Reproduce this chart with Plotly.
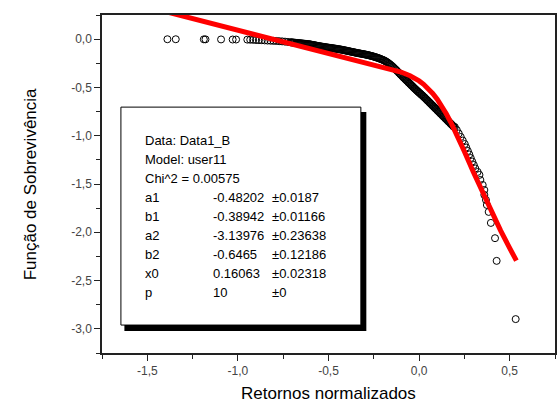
import plotly.graph_objects as go

# ---------------- data ----------------
# sparse points on the far left
left_x = [-1.389, -1.343, -1.188, -1.179, -1.093, -1.029, -1.010]
left_y = [-0.001, -0.001, -0.002, -0.002, -0.003, -0.004, -0.004]

# dense flat part
flat_x = [-0.948, -0.932, -0.916, -0.900, -0.884, -0.868, -0.852, -0.836, -0.820, -0.804,
          -0.788, -0.772, -0.756, -0.740, -0.724]
flat_y = [-0.005, -0.006, -0.007, -0.009, -0.010, -0.011, -0.013, -0.015, -0.016, -0.018,
          -0.019, -0.021, -0.023, -0.026, -0.029]

mid_x = [-0.710, -0.705, -0.700, -0.695, -0.690, -0.685, -0.680, -0.675, -0.670, -0.665,
         -0.660, -0.655, -0.650, -0.645, -0.640, -0.635, -0.630, -0.625, -0.620, -0.615,
         -0.610, -0.605, -0.600, -0.595, -0.590, -0.585, -0.580, -0.575, -0.570, -0.565,
         -0.560, -0.555, -0.550, -0.545, -0.540, -0.535, -0.530, -0.525, -0.520, -0.515,
         -0.510, -0.505, -0.500, -0.495, -0.490, -0.485, -0.480, -0.475, -0.470, -0.465,
         -0.460, -0.455, -0.450, -0.445, -0.440, -0.435, -0.430, -0.425, -0.420, -0.415,
         -0.410, -0.405, -0.400, -0.395, -0.390, -0.385, -0.380, -0.375, -0.370, -0.365,
         -0.360, -0.355, -0.350, -0.345, -0.340, -0.335, -0.330, -0.325, -0.320, -0.315,
         -0.310, -0.305, -0.300, -0.295, -0.290, -0.285, -0.280, -0.275, -0.270, -0.265,
         -0.260, -0.255, -0.250, -0.245, -0.240, -0.235, -0.230, -0.225, -0.220, -0.215,
         -0.210, -0.205, -0.200, -0.195, -0.190, -0.185, -0.180, -0.175, -0.170, -0.165,
         -0.160, -0.155, -0.150, -0.145, -0.140, -0.135, -0.130, -0.125, -0.120]
mid_y = [-0.032, -0.033, -0.034, -0.035, -0.036, -0.037, -0.038, -0.039, -0.040, -0.041,
         -0.042, -0.043, -0.044, -0.045, -0.046, -0.047, -0.048, -0.049, -0.050, -0.051,
         -0.052, -0.053, -0.055, -0.057, -0.059, -0.060, -0.062, -0.064, -0.066, -0.068,
         -0.070, -0.071, -0.073, -0.075, -0.076, -0.078, -0.079, -0.081, -0.082, -0.084,
         -0.085, -0.087, -0.088, -0.090, -0.091, -0.092, -0.093, -0.095, -0.096, -0.098,
         -0.099, -0.101, -0.102, -0.104, -0.105, -0.107, -0.108, -0.110, -0.112, -0.114,
         -0.116, -0.118, -0.120, -0.122, -0.124, -0.126, -0.128, -0.130, -0.132, -0.134,
         -0.136, -0.138, -0.140, -0.142, -0.144, -0.146, -0.147, -0.149, -0.151, -0.153,
         -0.154, -0.156, -0.158, -0.160, -0.162, -0.164, -0.166, -0.168, -0.171, -0.173,
         -0.176, -0.178, -0.181, -0.184, -0.187, -0.190, -0.193, -0.196, -0.200, -0.203,
         -0.207, -0.211, -0.215, -0.219, -0.224, -0.229, -0.235, -0.241, -0.248, -0.255,
         -0.262, -0.270, -0.278, -0.286, -0.295, -0.304, -0.313, -0.322, -0.332]

bend_x = [-0.112, -0.108, -0.104, -0.100, -0.096, -0.092, -0.088, -0.084, -0.080, -0.076,
          -0.072, -0.068, -0.064, -0.060, -0.056, -0.052, -0.048, -0.044, -0.040, -0.036,
          -0.032, -0.028, -0.024, -0.020, -0.016, -0.012, -0.008, -0.004, 0.000, 0.004,
          0.008, 0.012, 0.016, 0.020, 0.024, 0.028, 0.032, 0.036, 0.040, 0.044,
          0.048, 0.052, 0.056, 0.060, 0.064, 0.068, 0.072, 0.076, 0.080, 0.084,
          0.088, 0.092, 0.096, 0.100, 0.104, 0.108, 0.112, 0.116, 0.120, 0.124,
          0.128, 0.132, 0.136, 0.140, 0.144, 0.148, 0.152, 0.156, 0.160, 0.164,
          0.168, 0.172, 0.176, 0.180, 0.184, 0.188, 0.192]
bend_y = [-0.347, -0.354, -0.362, -0.369, -0.377, -0.385, -0.393, -0.400, -0.408, -0.415,
          -0.422, -0.430, -0.437, -0.445, -0.452, -0.460, -0.467, -0.475, -0.482, -0.490,
          -0.497, -0.505, -0.512, -0.519, -0.526, -0.533, -0.540, -0.547, -0.553, -0.560,
          -0.567, -0.574, -0.580, -0.587, -0.594, -0.601, -0.608, -0.616, -0.623, -0.631,
          -0.638, -0.646, -0.653, -0.661, -0.668, -0.676, -0.683, -0.691, -0.698, -0.706,
          -0.713, -0.721, -0.728, -0.736, -0.743, -0.751, -0.758, -0.766, -0.773, -0.781,
          -0.788, -0.796, -0.803, -0.811, -0.818, -0.826, -0.833, -0.841, -0.848, -0.856,
          -0.863, -0.871, -0.878, -0.886, -0.893, -0.901, -0.908]

stack_x = [0.197, 0.208, 0.219, 0.230, 0.241, 0.252, 0.260, 0.269, 0.277, 0.285, 0.293, 0.302, 0.310]
stack_y = [-0.910, -0.941, -0.977, -1.013, -1.050, -1.086, -1.122, -1.158, -1.194, -1.231,
           -1.267, -1.303, -1.339]

tail_x = [0.323, 0.333, 0.338, 0.351, 0.360, 0.360, 0.369, 0.374, 0.384, 0.396, 0.419, 0.428, 0.533]
tail_y = [-1.375, -1.406, -1.458, -1.510, -1.562, -1.613, -1.665, -1.717, -1.789, -1.903,
          -2.061, -2.296, -2.899]

# fitted curve (red)
fit_x = [-1.40, -1.20, -1.00, -0.80, -0.60, -0.40, -0.30, -0.20, -0.15, -0.10, -0.05, -0.025,
         0.0, 0.025, 0.05, 0.075, 0.10, 0.125, 0.15, 0.175, 0.20, 0.25, 0.30, 0.35, 0.40,
         0.45, 0.50, 0.537]
fit_y = [0.2854, 0.1890, 0.0926, -0.0038, -0.1000, -0.1936, -0.2395, -0.2857, -0.3110,
         -0.3406, -0.3788, -0.4032, -0.4324, -0.4678, -0.5104, -0.5617, -0.6221, -0.6924,
         -0.7722, -0.8608, -0.9567, -1.1639, -1.3788, -1.5901, -1.7920, -1.9831, -2.1649,
         -2.294]

# tick labels
x_tick_vals = [-1.5, -1.0, -0.5, 0.0, 0.5]
x_tick_text = ["-1,5", "-1,0", "-0,5", "0,0", "0,5"]
y_tick_vals = [0.0, -0.5, -1.0, -1.5, -2.0, -2.5, -3.0]
y_tick_text = ["0,0", "-0,5", "-1,0", "-1,5", "-2,0", "-2,5", "-3,0"]

# fit report
header_lines = ["Data: Data1_B", "Model: user11", "Chi^2 = 0.00575"]
param_names = ["a1", "b1", "a2", "b2", "x0", "p"]
param_values = ["-0.48202", "-0.38942", "-3.13976", "-0.6465", "0.16063", "10"]
param_errors = ["±0.0187", "±0.01166", "±0.23638", "±0.12186", "±0.02318", "±0"]

# ---------------- figure ----------------
pts_x = left_x + flat_x + mid_x + bend_x + stack_x + tail_x
pts_y = left_y + flat_y + mid_y + bend_y + stack_y + tail_y

FONT = "Liberation Sans, Arial, sans-serif"

fig = go.Figure()
fig.add_trace(go.Scatter(
    x=pts_x, y=pts_y, mode="markers",
    marker=dict(symbol="circle-open", size=7, color="black", line=dict(width=1, color="black")),
    showlegend=False, hoverinfo="skip"))
fig.add_trace(go.Scatter(
    x=fit_x, y=fit_y, mode="lines",
    line=dict(color="#ff0000", width=5), showlegend=False, hoverinfo="skip"))

# px -> data helpers for the text box placement
def dx(px):
    return (px - 421) / 182.0

def dy(py):
    return -(py - 39) / 96.6

shapes = [
    dict(type="rect", xref="x", yref="y", x0=dx(125), x1=dx(368), y0=dy(331), y1=dy(112),
         fillcolor="black", line=dict(width=0), layer="above"),
    dict(type="rect", xref="x", yref="y", x0=dx(121.5), x1=dx(362.5), y0=dy(325), y1=dy(107),
         fillcolor="white", line=dict(width=1, color="black"), layer="above"),
]

annotations = []
row_py = [140 + 19.1 * i for i in range(9)]
for i, t in enumerate(header_lines):
    annotations.append(dict(x=dx(143.3), y=dy(row_py[i]), xref="x", yref="y", text=t,
                            showarrow=False, xanchor="left", yanchor="middle",
                            font=dict(family=FONT, size=13, color="black")))
for j, (n, v, e) in enumerate(zip(param_names, param_values, param_errors)):
    r = row_py[3 + j]
    for col_px, t in ((143.3, n), (211.7, v), (271.7, e)):
        annotations.append(dict(x=dx(col_px), y=dy(r), xref="x", yref="y", text=t,
                                showarrow=False, xanchor="left", yanchor="middle",
                                font=dict(family=FONT, size=13, color="black")))

# axis titles
annotations.append(dict(x=0.5, y=(353 - 393) / 338, xref="paper", yref="paper",
                        text="Retornos normalizados", showarrow=False,
                        xanchor="center", yanchor="middle",
                        font=dict(family=FONT, size=17, color="black")))
annotations.append(dict(x=(30 - 102) / 455, y=0.5, xref="paper", yref="paper",
                        text="Função de Sobrevivência", showarrow=False, textangle=-90,
                        xanchor="center", yanchor="middle",
                        font=dict(family=FONT, size=17, color="black")))

axis_common = dict(
    showgrid=False, zeroline=False, showline=True, linecolor="#222", linewidth=1.5,
    mirror=True, ticks="outside", ticklen=6, tickwidth=1, tickcolor="#222",
    tickfont=dict(family=FONT, size=12, color="#444"),
    minor=dict(ticks="outside", ticklen=4, tickwidth=1, tickcolor="#222", dtick=0.25),
)

fig.update_layout(
    width=558, height=403,
    margin=dict(l=102, r=1, t=15, b=50),
    paper_bgcolor="white", plot_bgcolor="white",
    xaxis=dict(range=[-1.75, 0.75], tickvals=x_tick_vals, ticktext=x_tick_text, **axis_common),
    yaxis=dict(range=[-3.25, 0.25], tickvals=y_tick_vals, ticktext=y_tick_text, **axis_common),
    shapes=shapes, annotations=annotations,
)
fig.update_xaxes(minor=dict(tick0=-1.75))
fig.update_yaxes(minor=dict(tick0=0.25))

fig.write_html("out.html", config={"displayModeBar": False},
               post_script="document.body.style.margin='0';")
